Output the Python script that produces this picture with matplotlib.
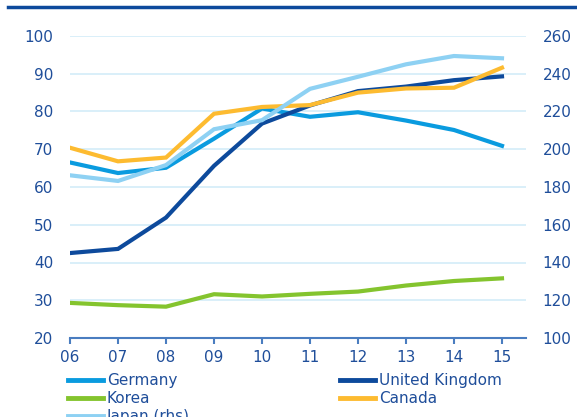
import matplotlib
matplotlib.use('Agg')
import matplotlib.pyplot as plt
from matplotlib.lines import Line2D

# Data
years = [6, 7, 8, 9, 10, 11, 12, 13, 14, 15]
year_labels = ['06', '07', '08', '09', '10', '11', '12', '13', '14', '15']
germany = [66.5, 63.7, 65.1, 72.8, 80.8, 78.6, 79.8, 77.6, 75.1, 70.9]
uk = [42.5, 43.6, 51.9, 65.6, 76.8, 81.6, 85.4, 86.6, 88.3, 89.3]
korea = [29.3, 28.7, 28.3, 31.6, 31.0, 31.7, 32.3, 33.9, 35.1, 35.8]
canada = [70.4, 66.8, 67.8, 79.4, 81.2, 81.7, 85.0, 86.1, 86.3, 91.6]
japan_rhs = [186.2, 183.2, 191.6, 210.6, 215.4, 232.0, 238.4, 245.0, 249.4, 248.2]

text_col = '#1F4E9A'
grid_col = '#D3ECF8'
axis_col = '#4A7DC0'
c_germany = '#0A9BDF'
c_uk = '#0D4A9C'
c_korea = '#84C42E'
c_canada = '#FDBB30'
c_japan = '#8ED1F3'
fs = 11

fig = plt.figure(figsize=(5.77, 4.17), dpi=100)
ax1 = fig.add_axes([70 / 577, 1 - 338 / 417, 456 / 577, 302 / 417])
ax2 = ax1.twinx()

lw = 3.0
ax1.plot(years, korea, color=c_korea, lw=lw, solid_joinstyle='miter')
ax1.plot(years, germany, color=c_germany, lw=lw, solid_joinstyle='miter')
ax1.plot(years, uk, color=c_uk, lw=lw, solid_joinstyle='miter')
ax1.plot(years, canada, color=c_canada, lw=lw, solid_joinstyle='miter')
ax2.plot(years, japan_rhs, color=c_japan, lw=lw, solid_joinstyle='miter')

ax1.set_xlim(6, 6 + 456 / 48)
ax1.set_ylim(20, 100)
ax2.set_ylim(100, 260)
ax1.set_yticks(range(20, 101, 10))
ax2.set_yticks(range(100, 261, 20))
ax1.set_xticks(years)
ax1.set_xticklabels(year_labels)

ax1.grid(axis='y', color=grid_col, lw=1.2)
ax1.set_axisbelow(True)

for ax in (ax1, ax2):
    for s in ax.spines.values():
        s.set_visible(False)
ax1.spines['bottom'].set_visible(True)
ax1.spines['bottom'].set_color(axis_col)
ax1.spines['bottom'].set_linewidth(1.5)

ax1.tick_params(axis='x', colors=axis_col, length=4, width=1.5, pad=5,
                labelsize=fs, labelcolor=text_col)
ax1.tick_params(axis='y', length=0, pad=12, labelsize=fs, labelcolor=text_col)
ax2.tick_params(axis='y', length=0, pad=12, labelsize=fs, labelcolor=text_col)

# Rule across the top
fig.add_artist(Line2D([8 / 577, 1], [1 - 7 / 417, 1 - 7 / 417],
                      color=c_uk, lw=2.5, transform=fig.transFigure))

# Legend in two columns (last row runs off the bottom, as in the original)
col1 = [(c_germany, 'Germany'), (c_korea, 'Korea'), (c_japan, 'Japan (rhs)')]
col2 = [(c_uk, 'United Kingdom'), (c_canada, 'Canada')]
for entries, x0 in ((col1, 68), (col2, 340)):
    handles = [Line2D([], [], color=c, lw=3.5) for c, _ in entries]
    leg = fig.legend(handles, [n for _, n in entries], loc='upper left',
                     bbox_to_anchor=(x0 / 577, 1 - 373 / 417), frameon=False,
                     fontsize=fs, handlelength=2.3, handletextpad=0.25,
                     labelspacing=0.2, borderpad=0, borderaxespad=0)
    for t in leg.get_texts():
        t.set_color(text_col)

fig.savefig('out.png', dpi=100)
